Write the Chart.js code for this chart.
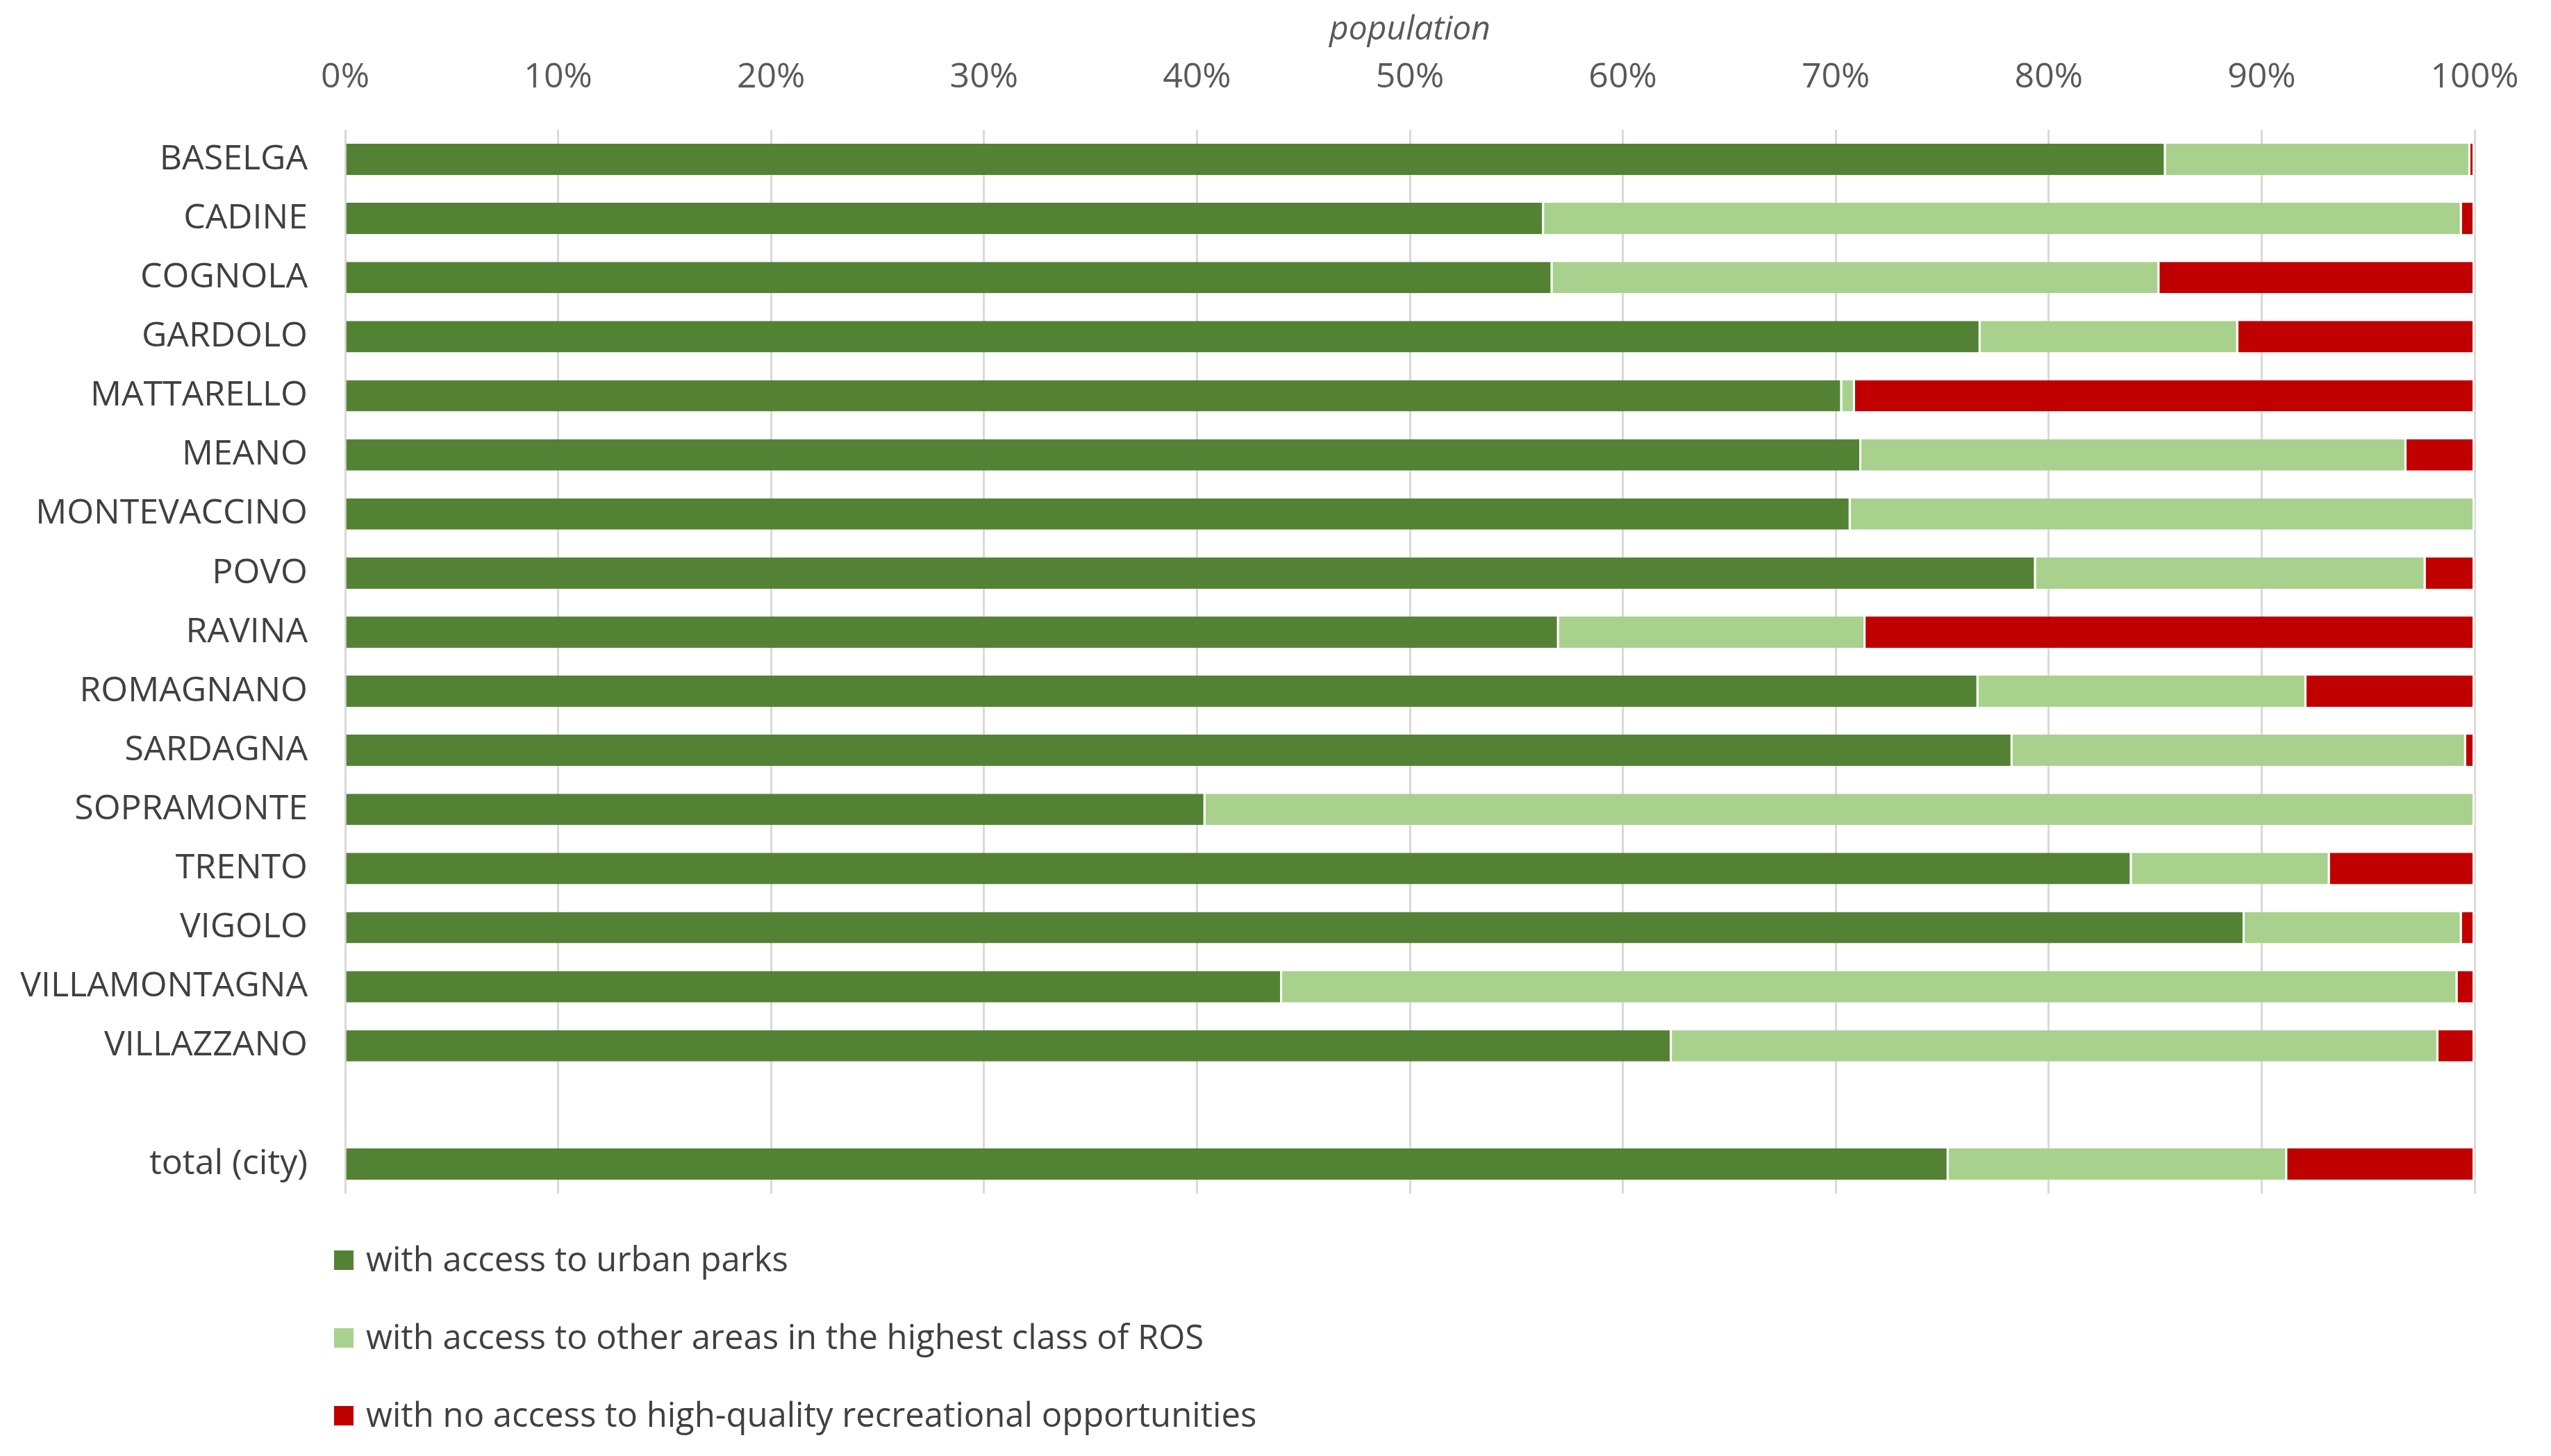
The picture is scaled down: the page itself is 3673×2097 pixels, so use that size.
<!DOCTYPE html>
<html>
<head>
<meta charset="utf-8">
<title>population access to recreation</title>
<script src="https://cdn.jsdelivr.net/npm/chart.js@4.4.1/dist/chart.umd.min.js"></script>
<style>
  html, body { margin: 0; padding: 0; background: #fff; }
  #wrap { width: 3673px; height: 2097px; }
</style>
</head>
<body>
<div id="wrap"><canvas id="myChart"></canvas></div>
<script>
'use strict';
// districts, top to bottom (empty label = the gap before the city total)
let districts = [
    'BASELGA', 'CADINE', 'COGNOLA', 'GARDOLO', 'MATTARELLO', 'MEANO',
    'MONTEVACCINO', 'POVO', 'RAVINA', 'ROMAGNANO', 'SARDAGNA',
    'SOPRAMONTE', 'TRENTO', 'VIGOLO', 'VILLAMONTAGNA', 'VILLAZZANO',
    '', 'total (city)'
];
// share of population, %
let urbanParks = [85.5, 56.3, 56.7, 76.8, 70.3, 71.2, 70.7, 79.4, 57.0, 76.7, 78.3, 40.4, 83.9, 89.2, 44.0, 62.3, null, 75.3];
let otherRos   = [14.3, 43.1, 28.5, 12.1, 0.6, 25.6, 29.3, 18.3, 14.4, 15.4, 21.3, 59.6, 9.3, 10.2, 55.2, 36.0, null, 15.9];
let noAccess   = [0.2, 0.6, 14.8, 11.1, 29.1, 3.2, 0, 2.3, 28.6, 7.9, 0.4, 0, 6.8, 0.6, 0.8, 1.7, null, 8.8];

let seriesNames = [
    'with access to urban parks',
    'with access to other areas in the highest class of ROS',
    'with no access to high-quality recreational opportunities'
];
let tickStep = 10;

const FONT = '"Open Sans", "DejaVu Sans", sans-serif';

// legend as a vertical list under the plot, like the original
const listLegend = {
    id: 'listLegend',
    afterDraw(chart) {
        const ctx = chart.ctx;
        const x = chart.chartArea.left - 16;
        ctx.save();
        ctx.font = '49px ' + FONT;
        ctx.textBaseline = 'middle';
        ctx.textAlign = 'left';
        chart.data.datasets.forEach(function (ds, i) {
            let y = 1815 + i * 112;
            ctx.fillStyle = ds.backgroundColor;
            ctx.fillRect(x, y - 14, 28, 28);
            ctx.fillStyle = '#404040';
            ctx.fillText(ds.label, x + 46, y + 2);
        });
        ctx.restore();
    }
};

function makeSet(label, data, color) {
    return {
        label: label,
        data: data,
        backgroundColor: color,
        borderColor: 'rgba(255,255,255,0.85)',
        borderWidth: { top: 0, bottom: 0, left: 0, right: 3 },
        borderSkipped: 'start',
        categoryPercentage: 1,
        barPercentage: 0.53
    };
}

function drawChart() {
    const ctx = document.getElementById('myChart').getContext('2d');
    new Chart(ctx, {
        type: 'bar',
        data: {
            labels: districts,
            datasets: [
                makeSet(seriesNames[0], urbanParks, '#548235'),
                makeSet(seriesNames[1], otherRos, '#A9D18E'),
                makeSet(seriesNames[2], noAccess, '#C00000')
            ]
        },
        options: {
            indexAxis: 'y',
            responsive: true,
            maintainAspectRatio: false,
            devicePixelRatio: 1,
            animation: false,
            layout: { padding: { left: 0, top: 0, right: 110, bottom: 378 } },
            plugins: {
                legend: { display: false },
                tooltip: { enabled: false }
            },
            scales: {
                x: {
                    position: 'top',
                    stacked: true,
                    min: 0,
                    max: 100,
                    afterFit: function (scale) { scale.height = 187; },
                    grid: { color: '#d9d9d9', lineWidth: 3, drawTicks: false },
                    border: { display: false },
                    ticks: {
                        stepSize: tickStep,
                        padding: 45,
                        color: '#595959',
                        font: { family: FONT, size: 50 },
                        callback: function (v) { return v + '%'; }
                    },
                    title: {
                        display: true,
                        text: 'population',
                        color: '#595959',
                        font: { family: FONT, size: 48, style: 'italic' },
                        padding: { top: 15, bottom: 0 }
                    }
                },
                y: {
                    stacked: true,
                    afterFit: function (scale) { scale.width = 497; },
                    grid: { display: false, drawTicks: false },
                    border: { display: false },
                    ticks: {
                        autoSkip: false,
                        padding: 54,
                        color: '#404040',
                        font: { family: FONT, size: 50 }
                    }
                }
            }
        },
        plugins: [listLegend]
    });
}

Promise.all([
    document.fonts.load('50px "Open Sans"'),
    document.fonts.load('italic 48px "Open Sans"')
]).then(drawChart, drawChart);
</script>
</body>
</html>
